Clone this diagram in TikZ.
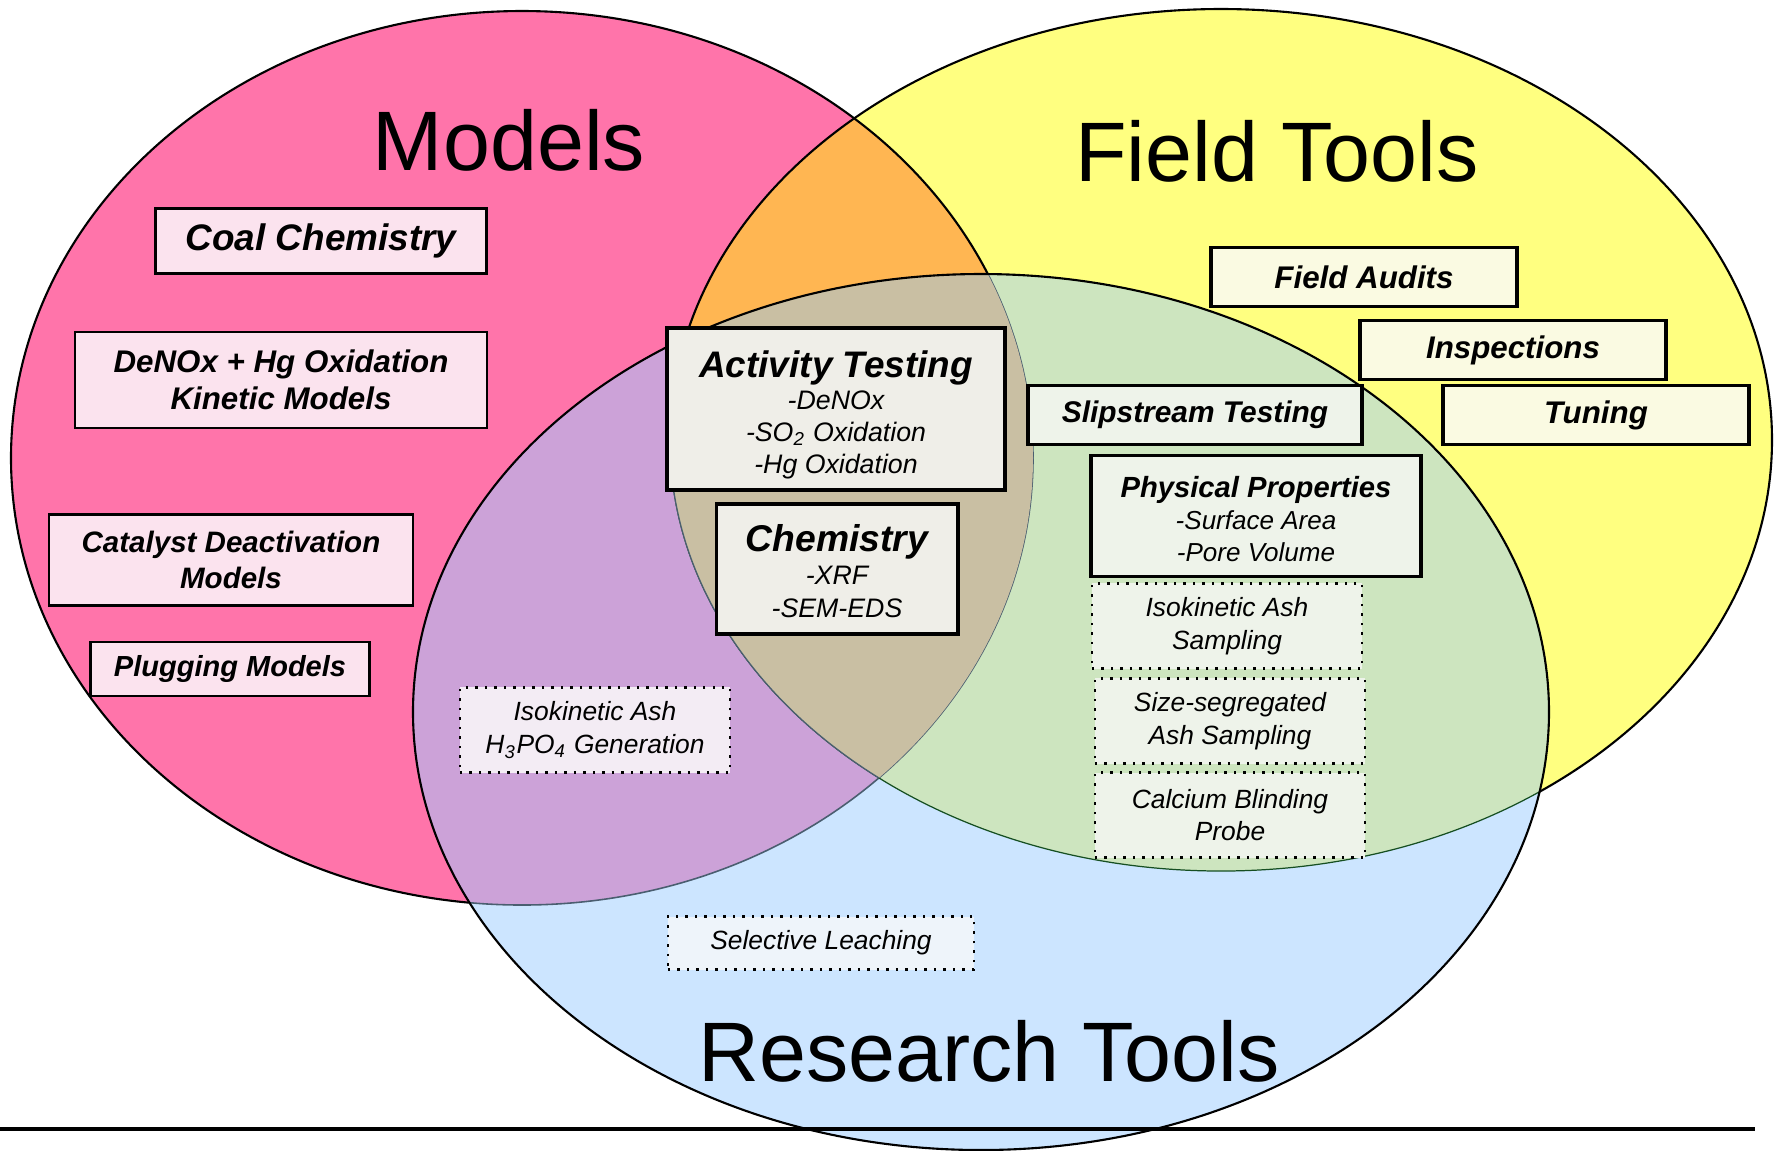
\documentclass[tikz,border=0pt]{standalone}
\usepackage{fontspec}
\setmainfont{Liberation Sans}
\usepackage{xcolor}

\definecolor{modelpink}{HTML}{FF74AA}
\definecolor{fieldyellow}{HTML}{FFFF80}
\definecolor{researchblue}{HTML}{CCE5FF}
\definecolor{mfoverlap}{HTML}{FFB652}
\definecolor{mroverlap}{HTML}{CCA2D8}
\definecolor{froverlap}{HTML}{CDE5BF}
\definecolor{alloverlap}{HTML}{C9BFA3}
\definecolor{pinkfill}{HTML}{FBE3EE}
\definecolor{greyfill}{HTML}{EFEEE8}
\definecolor{greenfill}{HTML}{EEF3EA}
\definecolor{yellowfill}{HTML}{FAFAE2}
\definecolor{lilacfill}{HTML}{F3ECF4}
\definecolor{bluefill}{HTML}{EEF4FA}
\definecolor{inneredge}{HTML}{4A5E70}

\begin{document}
\begin{tikzpicture}[x=0.01cm,y=-0.01cm,
    title/.style={anchor=base,inner sep=0pt,font=\fontsize{24}{28}\selectfont},
    modelbox/.style={draw,line width=0.7pt,fill=pinkfill,inner sep=0pt,align=center,
      font=\bfseries\itshape},
    testbox/.style={draw,line width=1.1pt,inner sep=0pt,align=center},
    toolbox/.style={draw,line width=1.1pt,fill=yellowfill,inner sep=0pt,align=center,
      font=\fontsize{8.9}{10.5}\selectfont\bfseries\itshape},
    dotbox/.style={draw,dotted,line width=0.7pt,inner sep=0pt,align=center,
      font=\fontsize{7.5}{9.3}\selectfont\itshape}]
\useasboundingbox (0,0) rectangle (1775,1150);

% the three sets
\fill[modelpink] (522,458) ellipse [x radius=511,y radius=447];
\fill[fieldyellow] (1221,440) ellipse [x radius=551,y radius=431];
\begin{scope}
  \clip (522,458) ellipse [x radius=511,y radius=447];
  \fill[mfoverlap] (1221,440) ellipse [x radius=551,y radius=431];
\end{scope}
\draw[line width=0.6pt] (522,458) ellipse [x radius=511,y radius=447];
\draw[line width=0.6pt] (1221,440) ellipse [x radius=551,y radius=431];
\fill[researchblue] (981,712) ellipse [x radius=568,y radius=438];
\begin{scope}
  \clip (981,712) ellipse [x radius=568,y radius=438];
  \fill[mroverlap] (522,458) ellipse [x radius=511,y radius=447];
  \fill[froverlap] (1221,440) ellipse [x radius=551,y radius=431];
  \draw[inneredge,line width=0.45pt] (522,458) ellipse [x radius=511,y radius=447];
  \draw[inneredge!60!green!50!black,line width=0.35pt] (1221,440) ellipse [x radius=551,y radius=431];
  \clip (522,458) ellipse [x radius=511,y radius=447];
  \fill[alloverlap] (1221,440) ellipse [x radius=551,y radius=431];
  \draw[inneredge,line width=0.35pt] (1221,440) ellipse [x radius=551,y radius=431];
\end{scope}
\draw[line width=0.6pt] (981,712) ellipse [x radius=568,y radius=438];

% rule at the bottom
\coordinate (ruleL) at (0,1129);
\coordinate (ruleR) at (1755,1129);
\draw[line width=0.9pt] (ruleL) -- (ruleR);

% set titles
\node (models) at (509,170) [title] {Models};
\node (field) at (1277,181) [title] {Field Tools};
\node (research) at (989,1081) [title] {Research Tools};

% models
\node (coal) at (321,241) [modelbox,minimum width=3.31cm,minimum height=0.65cm,
  font=\fontsize{10.5}{12}\selectfont\bfseries\itshape] {Coal Chemistry};
\node (denox) at (281,380) [modelbox,minimum width=4.12cm,minimum height=0.96cm,
  font=\fontsize{8.9}{10.4}\selectfont\bfseries\itshape] {DeNOx + Hg Oxidation\\Kinetic Models};
\node (deact) at (231,560) [modelbox,minimum width=3.64cm,minimum height=0.91cm,
  font=\fontsize{8.4}{10}\selectfont\bfseries\itshape] {Catalyst Deactivation\\Models};
\node (plug) at (230,669) [modelbox,minimum width=2.79cm,minimum height=0.54cm,
  font=\fontsize{8.25}{10}\selectfont\bfseries\itshape] {Plugging Models};

% centre
\node (activity) at (836,409) [testbox,fill=greyfill,minimum width=3.37cm,minimum height=1.62cm,
  font=\fontsize{7.6}{9.1}\selectfont\itshape]
  {\rule{0pt}{11pt}{\fontsize{10.5}{12}\selectfont\bfseries Activity Testing}\\-DeNOx\\-SO\textsubscript{2} Oxidation\\-Hg Oxidation};
\node (chem) at (837,569) [testbox,fill=greyfill,minimum width=2.41cm,minimum height=1.30cm,
  font=\fontsize{7.6}{9.4}\selectfont\itshape]
  {\rule{0pt}{9pt}{\fontsize{10.6}{12}\selectfont\bfseries Chemistry}\\-XRF\\-SEM-EDS};

% field tools
\node (audits) at (1364,277) [toolbox,minimum width=3.06cm,minimum height=0.59cm] {Field Audits};
\node (insp) at (1513,350) [toolbox,minimum width=3.05cm,minimum height=0.59cm] {Inspections};
\node (tuning) at (1596,415) [toolbox,minimum width=3.06cm,minimum height=0.59cm] {Tuning};
\node (slip) at (1195,415) [testbox,fill=greenfill,minimum width=3.34cm,minimum height=0.59cm,
  font=\fontsize{8.5}{10}\selectfont\bfseries\itshape] {Slipstream Testing};
\node (phys) at (1256,516) [testbox,fill=greenfill,minimum width=3.29cm,minimum height=1.21cm,
  font=\fontsize{7.4}{9.1}\selectfont\itshape]
  {\rule{0pt}{8pt}{\fontsize{8.3}{10}\selectfont\bfseries Physical Properties}\\-Surface Area\\-Pore Volume};

% research tools
\node (isosamp) at (1227,626) [dotbox,fill=greenfill,minimum width=2.70cm,minimum height=0.85cm]
  {Isokinetic Ash\\Sampling};
\node (sizeseg) at (1230,721) [dotbox,fill=greenfill,minimum width=2.70cm,minimum height=0.85cm]
  {Size-segregated\\Ash Sampling};
\node (calcium) at (1230,815) [dotbox,fill=greenfill,minimum width=2.70cm,minimum height=0.85cm]
  {Calcium Blinding\\Probe};
\node (acidgen) at (595,730) [dotbox,fill=lilacfill,minimum width=2.70cm,minimum height=0.85cm]
  {Isokinetic Ash\\H\textsubscript{3}PO\textsubscript{4} Generation};
\node (leach) at (821,943) [dotbox,fill=bluefill,minimum width=3.06cm,minimum height=0.53cm]
  {Selective Leaching};
\end{tikzpicture}
\end{document}
